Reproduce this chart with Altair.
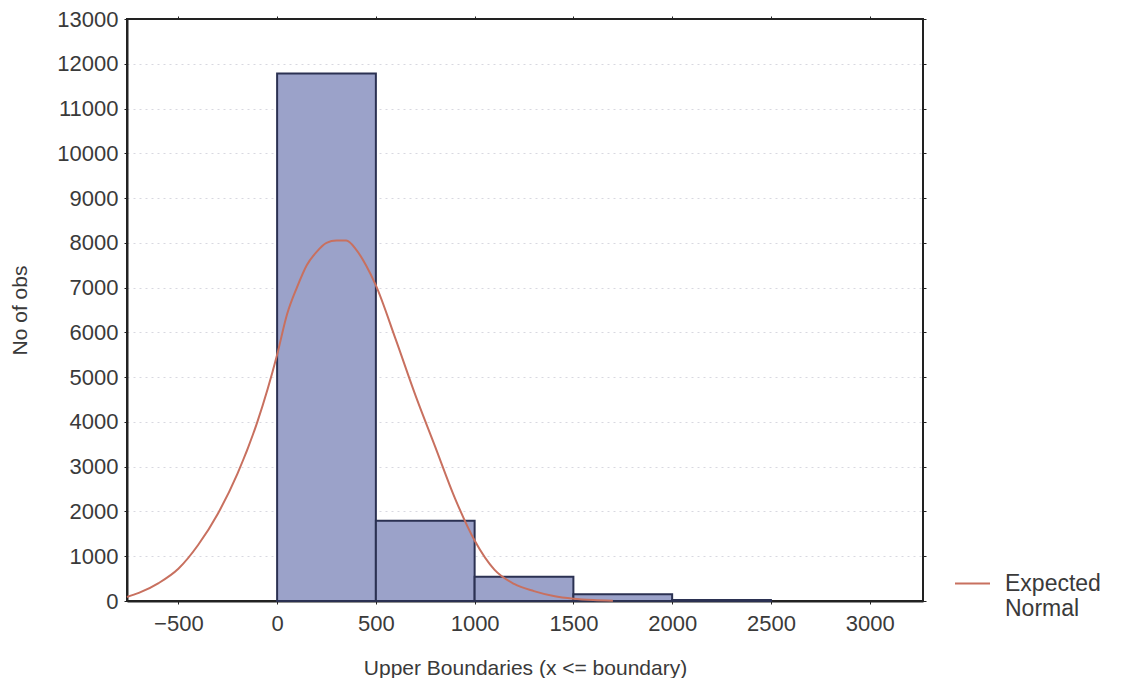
import altair as alt
import pandas as pd

# Histogram bins (upper boundaries) and counts
bin_start = [0, 500, 1000, 1500, 2000]
bin_end = [500, 1000, 1500, 2000, 2500]
counts = [11780, 1790, 540, 150, 25]

# Expected normal curve
curve_x = [-760, -700, -600, -500, -400, -300, -200, -100, 0, 50, 100, 150, 200, 250,
           300, 350, 400, 450, 500, 600, 700, 800, 900, 1000, 1100, 1200, 1300, 1400,
           1500, 1600, 1700]
curve_y = [90, 180, 400, 720, 1250, 1950, 2850, 4000, 5500, 6400, 7000, 7500, 7800, 8000,
           8050, 8050, 7850, 7500, 7050, 5850, 4600, 3450, 2300, 1350, 700, 380, 220, 110,
           50, 20, 5]

x_ticks = [-500, 0, 500, 1000, 1500, 2000, 2500, 3000]
y_ticks = list(range(0, 13001, 1000))

FONT = "Liberation Sans"
FS = 22

bars_df = pd.DataFrame({"start": bin_start, "end": bin_end, "count": counts})
curve_df = pd.DataFrame({"x": curve_x, "y": curve_y, "series": ["Expected Normal"] * len(curve_x)})

xscale = alt.Scale(domain=[-760, 3270], nice=False, zero=False)
yscale = alt.Scale(domain=[0, 13000], nice=False)

bars = alt.Chart(bars_df).mark_rect(
    fill="#9ba2c9", stroke="#2b3152", strokeWidth=2, opacity=1
).encode(
    x=alt.X("start:Q", scale=xscale,
            axis=alt.Axis(values=x_ticks, title="Upper Boundaries (x <= boundary)",
                          grid=False, format="d")),
    x2="end:Q",
    y=alt.Y("count:Q", scale=yscale,
            axis=alt.Axis(values=y_ticks, title="No of obs", grid=True, format="d",
                          gridColor=alt.condition("datum.value >= 13000 || datum.value <= 0",
                                                  alt.value("transparent"),
                                                  alt.value("#d8d8e0")))),
    y2=alt.datum(0),
)

line = alt.Chart(curve_df).mark_line(strokeWidth=2, interpolate="monotone").encode(
    x=alt.X("x:Q", scale=xscale,
            axis=alt.Axis(orient="top", values=x_ticks, labels=False, title=None,
                          domain=False, grid=False)),
    y=alt.Y("y:Q", scale=yscale,
            axis=alt.Axis(orient="right", values=y_ticks, labels=False, title=None,
                          domain=False, grid=False)),
    color=alt.Color("series:N",
                    scale=alt.Scale(domain=["Expected Normal"], range=["#c8705f"]),
                    legend=alt.Legend(title=None, orient="none", legendX=827, legendY=546,
                                      symbolType="stroke", symbolStrokeWidth=2,
                                      symbolSize=1225, labelOffset=14,
                                      labelExpr="split(datum.label, ' ')",
                                      labelFontSize=FS + 1, labelColor="#3a3a3a",
                                      labelFont=FONT)),
)

chart = alt.layer(bars, line).resolve_axis(
    x="independent", y="independent"
).properties(
    width=796, height=582,
    background="white",
    padding={"left": 1, "top": 0, "right": 5, "bottom": 0},
).configure_view(
    stroke="#222", strokeWidth=2
).configure_axis(
    labelFont=FONT, titleFont=FONT, labelFontSize=FS, titleFontSize=FS - 1,
    labelColor="#3a3a3a", titleColor="#3a3a3a", titleFontWeight="normal",
    domainColor="#222", domainWidth=2, tickColor="#222", tickSize=3,
    gridDash=[2, 4], gridWidth=1,
).configure_axisY(
    titlePadding=26, labelPadding=6,
).configure_axisX(
    titlePadding=23, labelPadding=9,
)

chart.save("out.html", embed_options={"renderer": "svg", "actions": False})
